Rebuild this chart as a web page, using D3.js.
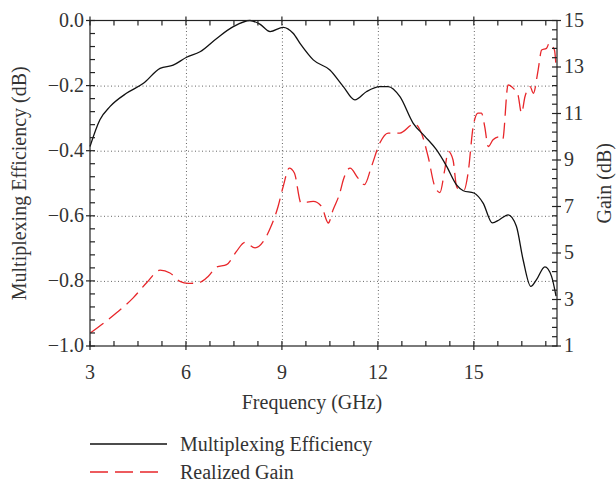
<!DOCTYPE html>
<html lang="en">
<head>
<meta charset="utf-8">
<script src="https://d3js.org/d3.v7.min.js"></script>
<style>
  body { margin: 0; background: #fff; }
  text { font-family: "Liberation Serif", "DejaVu Serif", serif; fill: #333; }
</style>
</head>
<body>
<script>
// Multiplexing efficiency (dB), left axis
const effFreq = [3.0, 3.31, 3.63, 4.15, 4.67, 5.19, 5.6, 6.02, 6.44, 6.96, 7.48, 8.0, 8.31, 8.63, 9.04, 9.35,
  9.6, 9.98, 10.5, 10.92, 11.28, 11.65, 12.06, 12.32, 12.69, 13.1, 13.47, 13.83, 14.15, 14.46, 14.67, 15.0,
  15.29, 15.58, 15.8, 16.07, 16.33, 16.54, 16.78, 16.96, 17.22, 17.43, 17.57];
const effVals = [-0.387, -0.305, -0.264, -0.223, -0.193, -0.147, -0.137, -0.113, -0.096, -0.055, -0.019, 0.0, -0.011, -0.034, -0.021, -0.039,
  -0.075, -0.121, -0.152, -0.203, -0.244, -0.218, -0.203, -0.203, -0.234, -0.315, -0.356, -0.397, -0.448, -0.505, -0.523, -0.53,
  -0.561, -0.622, -0.612, -0.597, -0.632, -0.735, -0.817, -0.796, -0.757, -0.786, -0.847];

// Realized gain (dB), right axis
const gainFreq = [3.02, 3.83, 4.35, 4.77, 5.19, 5.5, 5.81, 6.07, 6.44, 6.7, 6.96, 7.27, 7.58, 7.84, 8.16, 8.42,
  8.66, 8.88, 9.04, 9.23, 9.39, 9.6, 9.98, 10.24, 10.45, 10.6, 10.81, 10.92, 11.13, 11.38, 11.58, 11.8,
  12.06, 12.32, 12.69, 13.05, 13.14, 13.36, 13.57, 13.78, 13.94, 14.09, 14.2, 14.35, 14.46, 14.55, 14.7, 14.82,
  14.98, 15.13, 15.24, 15.34, 15.45, 15.6, 15.8, 15.9, 16.07, 16.23, 16.38, 16.49, 16.6, 16.76, 16.86, 17.01,
  17.12, 17.27, 17.36, 17.52, 17.57];
const gainVals = [1.57, 2.43, 3.07, 3.72, 4.26, 4.14, 3.78, 3.69, 3.74, 4.0, 4.4, 4.5, 5.07, 5.46, 5.22, 5.5,
  6.15, 7.0, 7.86, 8.65, 8.44, 7.15, 7.22, 7.0, 6.29, 6.86, 7.58, 8.15, 8.65, 8.22, 7.94, 8.72,
  9.73, 10.16, 10.16, 10.51, 10.56, 10.16, 9.15, 7.86, 7.6, 8.58, 9.37, 9.0, 7.86, 7.72, 7.72, 8.44,
  10.44, 11.02, 11.02, 10.44, 9.58, 9.87, 10.0, 9.87, 12.23, 12.09, 11.8, 11.02, 11.73, 12.16, 11.87, 12.87,
  13.73, 13.8, 14.02, 13.73, 13.02];

const xTicks = [3, 6, 9, 12, 15];
const yLeftTicks = [0, -0.2, -0.4, -0.6, -0.8, -1.0];
const yRightTicks = [1, 3, 5, 7, 9, 11, 13, 15];

const W = 616, H = 486;
const m = {left: 90, right: 59, top: 20.5, bottom: 140};
const x0 = m.left, x1 = W - m.right, y0 = m.top, y1 = H - m.bottom;

const svg = d3.select("body").append("svg").attr("width", W).attr("height", H);

const x = d3.scaleLinear().domain([3, 17.6]).range([x0, x1]);
const yL = d3.scaleLinear().domain([-1, 0]).range([y1, y0]);
const yR = d3.scaleLinear().domain([1, 15]).range([y1, y0]);

// dotted grid
const grid = svg.append("g").attr("stroke", "#666").attr("stroke-width", 1).attr("stroke-dasharray", "1,2.5");
grid.selectAll(".gx").data(xTicks.slice(1)).join("line")
  .attr("x1", d => x(d) + 0.5).attr("x2", d => x(d) + 0.5).attr("y1", y0).attr("y2", y1);
grid.selectAll(".gy").data(yLeftTicks.slice(1, -1)).join("line")
  .attr("y1", d => yL(d) + 0.5).attr("y2", d => yL(d) + 0.5).attr("x1", x0).attr("x2", x1);

// lines
const effLine = d3.line().curve(d3.curveMonotoneX).x(d => x(d[0])).y(d => yL(d[1]));
const gainLine = d3.line().curve(d3.curveMonotoneX).x(d => x(d[0])).y(d => yR(d[1]));

svg.append("path").datum(d3.zip(gainFreq, gainVals)).attr("d", gainLine)
  .attr("fill", "none").attr("stroke", "#e8262a").attr("stroke-width", 1.3).attr("stroke-dasharray", "16,7");
svg.append("path").datum(d3.zip(effFreq, effVals)).attr("d", effLine)
  .attr("fill", "none").attr("stroke", "#111").attr("stroke-width", 1.3);

// frame + ticks
const ax = svg.append("g").attr("stroke", "#222").attr("stroke-width", 1.2);
ax.append("rect").attr("x", x0).attr("y", y0).attr("width", x1 - x0).attr("height", y1 - y0).attr("fill", "none");

const xMinor = d3.range(3, 17.6, 0.75);
xMinor.forEach(v => {
  const major = xTicks.includes(v);
  ax.append("line").attr("x1", x(v)).attr("x2", x(v)).attr("y1", y1 - 5).attr("y2", y1 + (major ? 4 : 0));
  ax.append("line").attr("x1", x(v)).attr("x2", x(v)).attr("y1", y0 + 5).attr("y2", y0 - (major ? 4 : 0));
});
d3.range(-1, 0.001, 0.04).forEach(v => {
  const major = yLeftTicks.some(t => Math.abs(t - v) < 1e-6);
  ax.append("line").attr("y1", yL(v)).attr("y2", yL(v)).attr("x1", x0 - (major ? 4 : 0)).attr("x2", x0 + 5);
});
d3.range(1, 15.001, 0.4).forEach(v => {
  const major = yRightTicks.some(t => Math.abs(t - v) < 1e-6);
  ax.append("line").attr("y1", yR(v)).attr("y2", yR(v)).attr("x1", x1 - 5).attr("x2", x1 + (major ? 4 : 0));
});

// tick labels
const fs = 20;
svg.selectAll(".xl").data(xTicks).join("text")
  .attr("x", d => x(d)).attr("y", y1 + 33).attr("text-anchor", "middle").attr("font-size", fs)
  .text(d => d);
svg.selectAll(".yl").data(yLeftTicks).join("text")
  .attr("x", x0 - 6).attr("y", d => yL(d) + 6).attr("text-anchor", "end").attr("font-size", fs)
  .text(d => d3.format(".1f")(d).replace("-", "\u2212"));
svg.selectAll(".yr").data(yRightTicks).join("text")
  .attr("x", x1 + 7).attr("y", d => yR(d) + 6).attr("text-anchor", "start").attr("font-size", fs)
  .text(d => d);

// axis titles
svg.append("text").attr("x", 312).attr("y", 409).attr("text-anchor", "middle").attr("font-size", fs)
  .text("Frequency (GHz)");
svg.append("text").attr("transform", `translate(26,${(y0 + y1) / 2}) rotate(-90)`)
  .attr("text-anchor", "middle").attr("font-size", fs).text("Multiplexing Efficiency (dB)");
svg.append("text").attr("transform", `translate(611,${(y0 + y1) / 2}) rotate(-90)`)
  .attr("text-anchor", "middle").attr("font-size", fs).text("Gain (dB)");

// legend
const lg = svg.append("g");
lg.append("line").attr("x1", 90).attr("x2", 167).attr("y1", 444).attr("y2", 444)
  .attr("stroke", "#111").attr("stroke-width", 1.3);
lg.append("line").attr("x1", 90).attr("x2", 160).attr("y1", 472).attr("y2", 472)
  .attr("stroke", "#e8262a").attr("stroke-width", 1.3).attr("stroke-dasharray", "18,7");
lg.append("text").attr("x", 180).attr("y", 451).attr("font-size", fs).text("Multiplexing Efficiency");
lg.append("text").attr("x", 180).attr("y", 479).attr("font-size", fs).text("Realized Gain");
</script>
</body>
</html>
